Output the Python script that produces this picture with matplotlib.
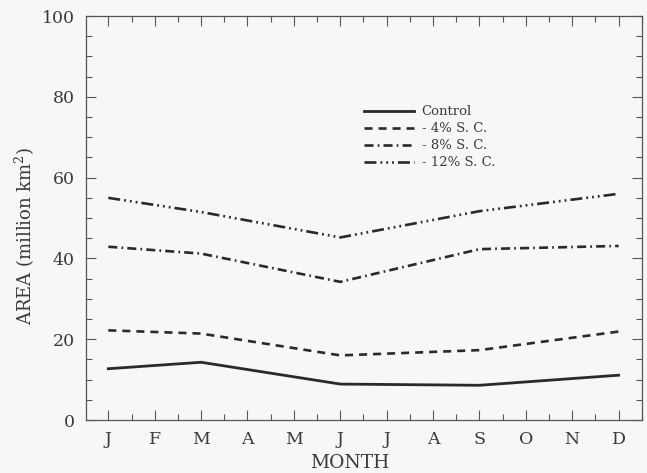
import matplotlib
matplotlib.use("Agg")
import matplotlib.pyplot as plt
from matplotlib.ticker import MultipleLocator

months = ["J", "F", "M", "A", "M", "J", "J", "A", "S", "O", "N", "D"]
x_points = [1, 3, 6, 9, 12]  # Jan, Mar, Jun, Sep, Dec
control = [12.7, 14.3, 8.9, 8.6, 11.1]
sc4 = [22.2, 21.4, 16.0, 17.3, 21.9]
sc8 = [42.9, 41.2, 34.2, 42.3, 43.1]
sc12 = [55.0, 51.5, 45.2, 51.7, 56.0]
labels = ["Control", "- 4% S. C.", "- 8% S. C.", "- 12% S. C."]

plt.rcParams["font.family"] = ["DejaVu Serif"]
plt.rcParams["lines.scale_dashes"] = False
plt.rcParams["mathtext.fontset"] = "dejavuserif"

bg = "#f7f8f6"
ink = "#2a2a2a"
txt = "#3a3a3a"
fig = plt.figure(figsize=(6.47, 4.73), dpi=100, facecolor=bg)
ax = fig.add_axes([0.133, 0.112, 0.859, 0.854], facecolor=bg)

lw = 1.9
ax.plot(x_points, control, color=ink, lw=2.0, ls="-", label=labels[0])
ax.plot(x_points, sc4, color=ink, lw=lw, ls=(0, (5.8, 4.3)), label=labels[1])
ax.plot(x_points, sc8, color=ink, lw=lw, ls=(0, (6.5, 3.0, 1.2, 3.0)), label=labels[2])
ax.plot(x_points, sc12, color=ink, lw=lw,
        ls=(0, (8.6, 2.9, 1.3, 2.9, 1.3, 2.9, 1.3, 2.9)), label=labels[3])

ax.set_xlim(0.52, 12.5)
ax.set_ylim(0, 100)
ax.set_xticks(range(1, 13))
ax.set_xticklabels(months)
ax.xaxis.set_minor_locator(MultipleLocator(0.5))
ax.yaxis.set_major_locator(MultipleLocator(20))
ax.yaxis.set_minor_locator(MultipleLocator(5))
ax.tick_params(which="both", direction="in", top=True, right=True,
               colors="#555555", labelcolor=txt)
ax.tick_params(which="major", length=7, width=0.8, labelsize=12.5, pad=8)
ax.tick_params(which="minor", length=4, width=0.8)
for s in ax.spines.values():
    s.set_color("#555555")
    s.set_linewidth(0.9)

ax.set_xlabel("MONTH", fontsize=13.5, color=txt, labelpad=2)
ax.xaxis.set_label_coords(0.475, -0.085)
ax.set_ylabel("AREA (million km$^2$)", fontsize=13, color=txt)
ax.yaxis.set_label_coords(-0.088, 0.455)

leg = ax.legend(loc="upper left", bbox_to_anchor=(0.49, 0.792), frameon=False,
                fontsize=9.5, handlelength=3.8, handletextpad=0.6,
                labelspacing=0.3, borderaxespad=0)
for t in leg.get_texts():
    t.set_color(txt)

fig.savefig("out.png", dpi=100, facecolor=bg)
